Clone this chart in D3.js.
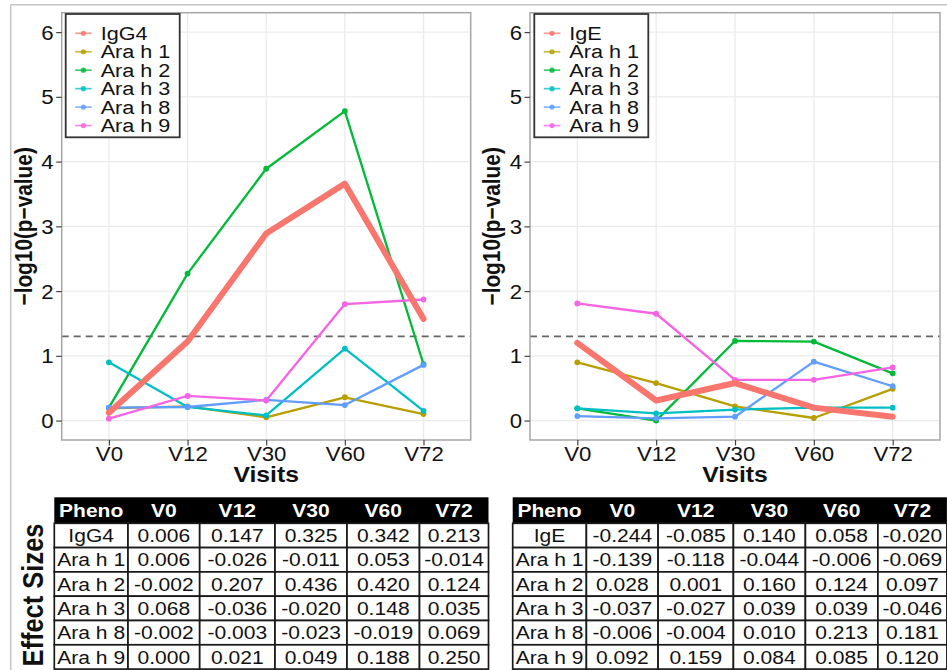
<!DOCTYPE html>
<html>
<head>
<meta charset="utf-8">
<script src="https://cdn.jsdelivr.net/npm/d3@7/dist/d3.min.js"></script>
<style>
  html, body { margin: 0; padding: 0; background: #fff; }
  svg { display: block; font-family: "Liberation Sans", Arial, Helvetica, sans-serif; }
</style>
</head>
<body>
<svg id="chart" width="947" height="670"></svg>
<script>
// ---- data ----
const visits = ["V0", "V12", "V30", "V60", "V72"];
const yTicks = [0, 1, 2, 3, 4, 5, 6];
const allergens = ["Ara h 1", "Ara h 2", "Ara h 3", "Ara h 8", "Ara h 9"];
const seriesColors = ["#F8766D", "#B79F00", "#00BA38", "#00BFC4", "#619CFF", "#F564E3"];
const pThreshold = 0.05;

// -log10(p) per visit, IgG4 panel
const igg4Total = [0.12, 1.22, 2.89, 3.66, 1.57];
const igg4AraH1 = [0.19, 0.22, 0.05, 0.36, 0.10];
const igg4AraH2 = [0.20, 2.27, 3.89, 4.78, 0.87];
const igg4AraH3 = [0.90, 0.21, 0.08, 1.11, 0.15];
const igg4AraH8 = [0.20, 0.21, 0.32, 0.24, 0.86];
const igg4AraH9 = [0.03, 0.38, 0.31, 1.80, 1.87];

// -log10(p) per visit, IgE panel
const igeTotal = [1.20, 0.31, 0.58, 0.20, 0.06];
const igeAraH1 = [0.90, 0.58, 0.22, 0.04, 0.49];
const igeAraH2 = [0.19, 0.00, 1.23, 1.22, 0.73];
const igeAraH3 = [0.19, 0.11, 0.17, 0.20, 0.20];
const igeAraH8 = [0.07, 0.035, 0.06, 0.91, 0.53];
const igeAraH9 = [1.81, 1.65, 0.63, 0.63, 0.82];

// effect sizes per visit
const tableHeader = ["Pheno", "V0", "V12", "V30", "V60", "V72"];
const igg4Effects = [
  [0.006, 0.147, 0.325, 0.342, 0.213],
  [0.006, -0.026, -0.011, 0.053, -0.014],
  [-0.002, 0.207, 0.436, 0.420, 0.124],
  [0.068, -0.036, -0.020, 0.148, 0.035],
  [-0.002, -0.003, -0.023, -0.019, 0.069],
  [0.000, 0.021, 0.049, 0.188, 0.250]
];
const igeEffects = [
  [-0.244, -0.085, 0.140, 0.058, -0.020],
  [-0.139, -0.118, -0.044, -0.006, -0.069],
  [0.028, 0.001, 0.160, 0.124, 0.097],
  [-0.037, -0.027, 0.039, 0.039, -0.046],
  [-0.006, -0.004, 0.010, 0.213, 0.181],
  [0.092, 0.159, 0.084, 0.085, 0.120]
];

// ---- drawing ----
const SX = 1.15; // horizontal text stretch
const svg = d3.select("#chart");
const INK = "#111";

function addText(parent, x, y, str, o = {}) {
  return parent.append("text")
    .attr("transform", `translate(${x},${y}) scale(${SX},1)` + (o.rotate ? ` rotate(${o.rotate})` : ""))
    .attr("text-anchor", o.anchor || "start")
    .attr("font-size", o.size || 18)
    .attr("font-weight", o.weight || "normal")
    .attr("fill", o.fill || INK)
    .text(str);
}

// outer frame
svg.append("line").attr("x1", 10.7).attr("x2", 947).attr("y1", 4.7).attr("y2", 4.7)
  .attr("stroke", "#c4c4c4").attr("stroke-width", 1.5);
svg.append("line").attr("x1", 10.7).attr("x2", 10.7).attr("y1", 4.7).attr("y2", 670)
  .attr("stroke", "#c4c4c4").attr("stroke-width", 1.5);

function drawPanel(cfg) {
  const { left, right, top, bottom, lead, leadName, others, titleX, legendX } = cfg;
  const g = svg.append("g");
  const x = d3.scalePoint().domain(visits).range([left, right]).padding(0.6);
  const y = d3.scaleLinear().domain([-0.3, 6.3]).range([bottom, top]);

  // grid
  g.selectAll(".gy").data(yTicks).join("line")
    .attr("x1", left).attr("x2", right).attr("y1", d => y(d)).attr("y2", d => y(d))
    .attr("stroke", "#ebebeb").attr("stroke-width", 1.3);
  g.selectAll(".gx").data(visits).join("line")
    .attr("x1", d => x(d)).attr("x2", d => x(d)).attr("y1", top).attr("y2", bottom)
    .attr("stroke", "#ebebeb").attr("stroke-width", 1.3);

  // significance threshold
  const thr = -Math.log10(pThreshold);
  g.append("line").attr("x1", left).attr("x2", right).attr("y1", y(thr)).attr("y2", y(thr))
    .attr("stroke", "#666").attr("stroke-width", 1.6).attr("stroke-dasharray", "7,5");

  const line = d3.line().x((d, i) => x(visits[i])).y(d => y(d));

  // allergen component lines
  others.forEach((vals, k) => {
    const col = seriesColors[k + 1];
    g.append("path").datum(vals).attr("d", line)
      .attr("fill", "none").attr("stroke", col).attr("stroke-width", 2.3)
      .attr("stroke-linejoin", "round");
    g.selectAll(null).data(vals).join("circle")
      .attr("cx", (d, i) => x(visits[i])).attr("cy", d => y(d)).attr("r", 2.9)
      .attr("fill", col);
  });

  // total antibody line (thick)
  g.append("path").datum(lead).attr("d", line)
    .attr("fill", "none").attr("stroke", seriesColors[0]).attr("stroke-width", 6)
    .attr("stroke-linejoin", "round").attr("stroke-linecap", "round");

  // panel border
  g.append("rect").attr("x", left).attr("y", top).attr("width", right - left).attr("height", bottom - top)
    .attr("fill", "none").attr("stroke", "#a6a6a6").attr("stroke-width", 1.5);

  // axes
  const ay = g.append("g").attr("transform", `translate(${left},0)`)
    .call(d3.axisLeft(y).tickValues(yTicks).tickSize(5.5).tickFormat(d3.format("d")));
  ay.select(".domain").remove();
  ay.selectAll(".tick line").attr("stroke", "#444").attr("stroke-width", 1.2);
  ay.selectAll(".tick text").attr("x", null).attr("dy", "0.36em")
    .attr("transform", `translate(-8,0) scale(${SX},1)`)
    .attr("font-size", 19.3).attr("fill", INK).attr("font-family", null);

  const ax = g.append("g").attr("transform", `translate(0,${bottom})`)
    .call(d3.axisBottom(x).tickSize(5.5));
  ax.select(".domain").remove();
  ax.selectAll(".tick line").attr("stroke", "#444").attr("stroke-width", 1.2);
  ax.selectAll(".tick text").attr("y", null).attr("dy", null)
    .attr("transform", `translate(0,20.5) scale(${SX},1)`)
    .attr("font-size", 19.3).attr("fill", INK).attr("font-family", null);

  // titles
  addText(g, (left + right) / 2, 482, "Visits", { size: 21.5, weight: "bold", anchor: "middle" });
  addText(g, titleX, (top + bottom) / 2, "\u2212log10(p\u2212value)",
    { size: 20.8, weight: "bold", anchor: "middle", rotate: -90 });

  // legend
  const lg = g.append("g");
  lg.append("rect").attr("x", legendX).attr("y", 14).attr("width", 114).attr("height", 123.3)
    .attr("fill", "#fff").attr("stroke", "#333").attr("stroke-width", 1.8);
  const names = [leadName].concat(allergens);
  names.forEach((nm, i) => {
    const base = 39.8 + i * 18.45;
    const cy = base - 6.5;
    lg.append("line").attr("x1", legendX + 9.5).attr("x2", legendX + 26).attr("y1", cy).attr("y2", cy)
      .attr("stroke", seriesColors[i]).attr("stroke-width", 1.7).attr("opacity", 0.75);
    lg.append("circle").attr("cx", legendX + 17.7).attr("cy", cy).attr("r", 2.6)
      .attr("fill", seriesColors[i]).attr("opacity", 0.85);
    addText(lg, legendX + 35, base, nm, { size: 18.8 });
  });
}

drawPanel({
  left: 61.7, right: 470.7, top: 12.7, bottom: 440,
  lead: igg4Total, leadName: "IgG4",
  others: [igg4AraH1, igg4AraH2, igg4AraH3, igg4AraH8, igg4AraH9],
  titleX: 32, legendX: 65.7
});
drawPanel({
  left: 530, right: 940, top: 12.7, bottom: 440,
  lead: igeTotal, leadName: "IgE",
  others: [igeAraH1, igeAraH2, igeAraH3, igeAraH8, igeAraH9],
  titleX: 500, legendX: 534.3
});

// ---- effect size tables ----
const fmt = v => (v < 0 ? "-" : "") + Math.abs(v).toFixed(3);
const colWidths = [73.7, 71.7, 75.3, 72, 72.5, 69];

function drawTable(x0, leadName, rows) {
  const g = svg.append("g");
  const top = 497.3, headH = 26, rowH = 24.3;
  const edges = [x0];
  colWidths.forEach(w => edges.push(edges[edges.length - 1] + w));
  // header
  g.append("rect").attr("x", x0).attr("y", top).attr("width", edges[6] - x0).attr("height", headH)
    .attr("fill", "#000");
  tableHeader.forEach((h, j) => {
    addText(g, (edges[j] + edges[j + 1]) / 2, top + headH / 2 + 6.6, h,
      { size: 18.3, weight: "bold", anchor: "middle", fill: "#fff" });
  });
  const names = [leadName].concat(allergens);
  rows.forEach((r, i) => {
    const ry = top + headH + i * rowH;
    const cells = [names[i]].concat(r.map(fmt));
    cells.forEach((c, j) => {
      g.append("rect").attr("x", edges[j]).attr("y", ry).attr("width", edges[j + 1] - edges[j]).attr("height", rowH)
        .attr("fill", "#fff").attr("stroke", "#1a1a1a").attr("stroke-width", 1.7);
      addText(g, (edges[j] + edges[j + 1]) / 2, ry + rowH / 2 + 6.6, c,
        { size: 18.3, anchor: "middle" });
    });
  });
}

drawTable(54.3, "IgG4", igg4Effects);
drawTable(512.7, "IgE", igeEffects);

addText(svg, 43.3, 595, "Effect Sizes", { size: 25.5, weight: "bold", anchor: "middle", rotate: -90 });
</script>
</body>
</html>
